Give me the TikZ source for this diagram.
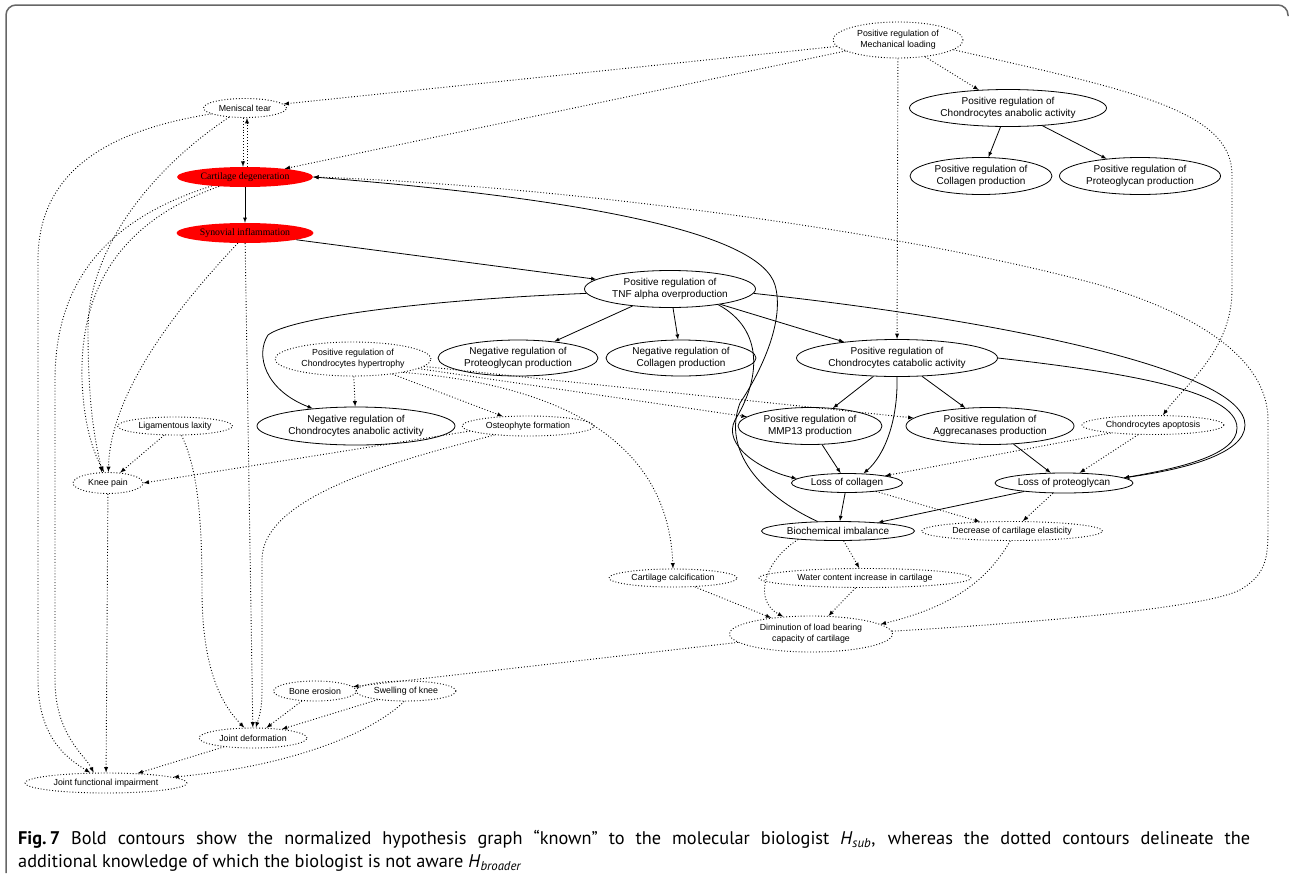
\documentclass[tikz,border=0pt]{standalone}
\usepackage{fontspec}
\setmainfont{Liberation Sans}
\newfontfamily\timesfont{Liberation Serif}
\newfontfamily\capfont{PT Sans}
\usetikzlibrary{arrows}
\usetikzlibrary{shapes.geometric}

\begin{document}
\begin{tikzpicture}[x=1pt,y=-1pt,>=latex,
	wh/.style 2 args={minimum width=#1pt,minimum height=#2pt},
	known/.style={draw,ellipse,line width=0.8pt,inner sep=0pt,align=center,font=\fontsize{10}{12}\selectfont},
	extra/.style={draw,ellipse,dotted,line width=0.9pt,inner sep=0pt,align=center,font=\fontsize{8.8}{11}\selectfont},
	hot/.style={ellipse,fill=red,inner sep=0pt,font=\timesfont\fontsize{9.8}{12}\selectfont},
	sub/.style={->,line width=0.8pt},
	broad/.style={->,dotted,line width=0.9pt},
	caption/.style={anchor=base west,inner sep=0pt,font=\capfont\fontsize{18.3}{22}\selectfont}]
	\useasboundingbox (0,0) rectangle (1290,873);
	\draw[black!60,line width=1.5pt,rounded corners=10pt] (6,873) -- (6,5) -- (1288,5) -- (1288,16);

	\node[extra,wh={130}{36}] (mech) at (898,40) {Positive regulation of\\Mechanical loading};
	\node[extra,wh={83}{19}] (meniscal) at (245,108) {Meniscal tear};
	\node[hot,wh={136}{20}] (cartdeg) at (245,177) {Cartilage degeneration};
	\node[hot,wh={137}{20}] (synov) at (245,233) {Synovial inflammation};
	\node[known,wh={197}{37}] (anab) at (1008,108) {Positive regulation of\\Chondrocytes anabolic activity};
	\node[known,wh={142}{37}] (poscoll) at (981,176) {Positive regulation of\\Collagen production};
	\node[known,wh={161}{37}] (posprot) at (1140,176) {Positive regulation of\\Proteoglycan production};
	\node[known,wh={171}{37}] (tnf) at (670,289) {Positive regulation of\\TNF alpha overproduction};
	\node[extra,wh={156}{34}] (hyper) at (353,359) {Positive regulation of\\Chondrocytes hypertrophy};
	\node[known,wh={160}{36}] (negprot) at (518,358) {Negative regulation of\\Proteoglycan production};
	\node[known,wh={150}{36}] (negcoll) at (681,358) {Negative regulation of\\Collagen production};
	\node[known,wh={201}{37}] (catab) at (897,358) {Positive regulation of\\Chondrocytes catabolic activity};
	\node[known,wh={198}{38}] (neganab) at (356,426) {Negative regulation of\\Chondrocytes anabolic activity};
	\node[extra,wh={115}{18}] (ligam) at (175,426) {Ligamentous laxity};
	\node[extra,wh={132}{20}] (osteo) at (528,426) {Osteophyte formation};
	\node[known,wh={144}{37}] (mmp13) at (810,426) {Positive regulation of\\MMP13 production};
	\node[known,wh={168}{37}] (aggre) at (990,426) {Positive regulation of\\Aggrecanases production};
	\node[extra,wh={142}{19}] (apopt) at (1153,425) {Chondrocytes apoptosis};
	\node[extra,wh={70}{21}] (kneepain) at (108,483) {Knee pain};
	\node[known,wh={111}{19}] (losscoll) at (847,483) {Loss of collagen};
	\node[known,wh={138}{20}] (lossprot) at (1064,483) {Loss of proteoglycan};
	\node[known,wh={153}{19}] (biochem) at (838,531) {Biochemical imbalance};
	\node[extra,wh={181}{19}] (elastic) at (1012,531) {Decrease of cartilage elasticity};
	\node[extra,wh={128}{18}] (calcif) at (673,578) {Cartilage calcification};
	\node[extra,wh={212}{19}] (water) at (865,578) {Water content increase in cartilage};
	\node[extra,wh={163}{36}] (dimin) at (811,634) {Diminution of load bearing\\capacity of cartilage};
	\node[extra,wh={83}{20}] (boneeros) at (315,691) {Bone erosion};
	\node[extra,wh={100}{20}] (swelling) at (406,691) {Swelling of knee};
	\node[extra,wh={108}{20}] (jointdef) at (253,738) {Joint deformation};
	\node[extra,wh={162}{20}] (jfi) at (106,783) {Joint functional impairment};

	\foreach \src/\dst in {cartdeg/synov, synov/tnf, tnf/negprot, tnf/negcoll, tnf/catab, catab/mmp13, catab/aggre, mmp13/losscoll, aggre/lossprot, losscoll/biochem, lossprot/biochem, anab/poscoll, anab/posprot}
		\draw[sub] (\src) -- (\dst);
	\draw[sub] (tnf.183) .. controls (420,300) and (290,318) .. (268,335) .. controls (255,355) and (265,390) .. (neganab.158);
	\draw[sub] (tnf.-3) .. controls (1000,320) and (1245,370) .. (1245,425) .. controls (1245,455) and (1180,470) .. (lossprot.5);
	\draw[sub] (catab.east) .. controls (1120,372) and (1237,390) .. (1237,428) .. controls (1237,455) and (1180,468) .. (lossprot.5);
	\draw[sub] (tnf.-18) .. controls (765,330) and (760,380) .. (735,420) .. controls (722,445) and (760,470) .. (losscoll.175);
	\draw[sub] (catab.south) .. controls (898,420) and (885,455) .. (losscoll.30);
	\draw[sub] (biochem.155) .. controls (760,495) and (722,450) .. (740,403) .. controls (762,370) and (785,320) .. (775,285) .. controls (760,235) and (600,200) .. (cartdeg.east);

	\foreach \src/\dst in {mech/meniscal, mech/cartdeg, mech/anab, mech/catab, synov/jointdef, ligam/kneepain, hyper/neganab, hyper/osteo, hyper/mmp13, hyper/aggre, apopt/losscoll, apopt/lossprot, losscoll/elastic, lossprot/elastic, biochem/water, calcif/dimin, water/dimin, dimin/boneeros, boneeros/jointdef, swelling/jointdef, jointdef/jfi, kneepain/jfi}
		\draw[broad] (\src) -- (\dst);
	\draw[broad] ([xshift=-2pt]meniscal.south) -- ([xshift=-2pt]cartdeg.north);
	\draw[broad] ([xshift=2pt]cartdeg.north) -- ([xshift=2pt]meniscal.south);
	\draw[broad] (mech.-10) .. controls (1130,90) and (1232,110) .. (1232,175) -- (1232,290) .. controls (1232,350) and (1185,385) .. (apopt.45);
	\draw[broad] (meniscal.190) .. controls (110,130) and (38,170) .. (38,260) -- (38,680) .. controls (38,740) and (70,760) .. (jfi.147);
	\draw[broad] (cartdeg.-165) .. controls (120,215) and (55,270) .. (55,380) -- (55,680) .. controls (55,735) and (85,755) .. (jfi.140);
	\draw[broad] (cartdeg.-160) .. controls (110,225) and (80,300) .. (82,380) .. controls (84,430) and (95,455) .. (kneepain.110);
	\draw[broad] (meniscal.-150) .. controls (150,170) and (88,250) .. (88,330) .. controls (88,420) and (98,450) .. (kneepain.120);
	\draw[broad] (synov.-125) .. controls (165,320) and (110,400) .. (kneepain.88);
	\draw[broad] (ligam.-55) .. controls (198,470) and (202,520) .. (202,590) .. controls (202,670) and (222,705) .. (jointdef.130);
	\draw[broad] (osteo.-175) -- (kneepain.east);
	\draw[broad] (osteo.-165) .. controls (400,460) and (262,495) .. (262,560) -- (262,690) .. controls (262,712) and (258,720) .. (jointdef.75);
	\draw[broad] (hyper.-15) .. controls (560,385) and (668,440) .. (calcif.north);
	\draw[broad] (biochem.-168) .. controls (765,560) and (752,600) .. (dimin.148);
	\draw[broad] (elastic.-100) .. controls (990,575) and (960,605) .. (dimin.8);
	\draw[broad] (dimin.2) .. controls (1000,625) and (1200,610) .. (1240,590) .. controls (1265,575) and (1268,560) .. (1268,530) -- (1268,420) .. controls (1268,360) and (1200,315) .. (1100,285) .. controls (900,230) and (550,185) .. (cartdeg.east);
	\draw[broad] (swelling.-100) .. controls (375,730) and (300,765) .. (jfi.5);

	\node[caption] (capA) at (18,844) {\makebox[1232pt][s]{\textbf{Fig.\,7} Bold contours show the normalized hypothesis graph “known” to the molecular biologist \textit{H}\textsubscript{\textit{sub}}, whereas the dotted contours delineate the}};
	\node[caption] (capB) at (18,867) {additional knowledge of which the biologist is not aware \textit{H}\textsubscript{\textit{broader}}};
\end{tikzpicture}
\end{document}
